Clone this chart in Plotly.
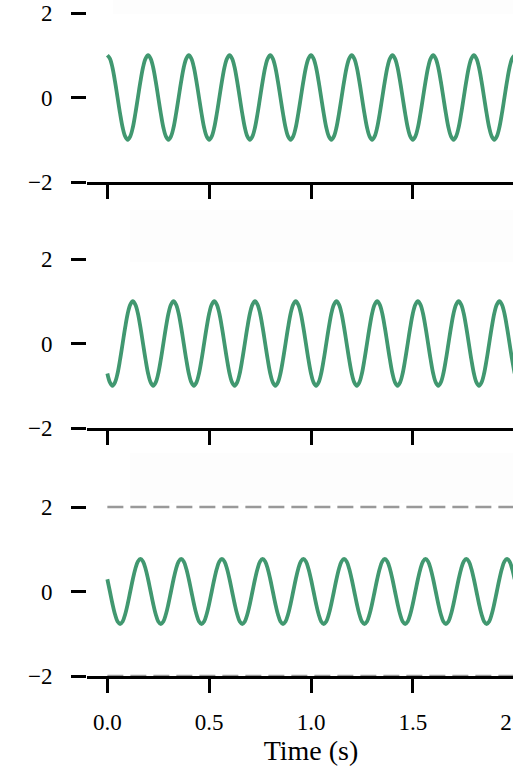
import plotly.graph_objects as go
from plotly.subplots import make_subplots

# ---------------- data ----------------
time_s = [
    0.0000, 0.0125, 0.0250, 0.0375, 0.0500, 0.0625, 0.0750, 0.0875,
    0.1000, 0.1125, 0.1250, 0.1375, 0.1500, 0.1625, 0.1750, 0.1875,
    0.2000, 0.2125, 0.2250, 0.2375, 0.2500, 0.2625, 0.2750, 0.2875,
    0.3000, 0.3125, 0.3250, 0.3375, 0.3500, 0.3625, 0.3750, 0.3875,
    0.4000, 0.4125, 0.4250, 0.4375, 0.4500, 0.4625, 0.4750, 0.4875,
    0.5000, 0.5125, 0.5250, 0.5375, 0.5500, 0.5625, 0.5750, 0.5875,
    0.6000, 0.6125, 0.6250, 0.6375, 0.6500, 0.6625, 0.6750, 0.6875,
    0.7000, 0.7125, 0.7250, 0.7375, 0.7500, 0.7625, 0.7750, 0.7875,
    0.8000, 0.8125, 0.8250, 0.8375, 0.8500, 0.8625, 0.8750, 0.8875,
    0.9000, 0.9125, 0.9250, 0.9375, 0.9500, 0.9625, 0.9750, 0.9875,
    1.0000, 1.0125, 1.0250, 1.0375, 1.0500, 1.0625, 1.0750, 1.0875,
    1.1000, 1.1125, 1.1250, 1.1375, 1.1500, 1.1625, 1.1750, 1.1875,
    1.2000, 1.2125, 1.2250, 1.2375, 1.2500, 1.2625, 1.2750, 1.2875,
    1.3000, 1.3125, 1.3250, 1.3375, 1.3500, 1.3625, 1.3750, 1.3875,
    1.4000, 1.4125, 1.4250, 1.4375, 1.4500, 1.4625, 1.4750, 1.4875,
    1.5000, 1.5125, 1.5250, 1.5375, 1.5500, 1.5625, 1.5750, 1.5875,
    1.6000, 1.6125, 1.6250, 1.6375, 1.6500, 1.6625, 1.6750, 1.6875,
    1.7000, 1.7125, 1.7250, 1.7375, 1.7500, 1.7625, 1.7750, 1.7875,
    1.8000, 1.8125, 1.8250, 1.8375, 1.8500, 1.8625, 1.8750, 1.8875,
    1.9000, 1.9125, 1.9250, 1.9375, 1.9500, 1.9625, 1.9750, 1.9875,
    2.0000,
]

signal_top = [
    1.00, 0.92, 0.71, 0.38, 0.00, -0.38, -0.71, -0.92, -1.00, -0.92, -0.71, -0.38, 0.00, 0.38, 0.71, 0.92,
    1.00, 0.92, 0.71, 0.38, 0.00, -0.38, -0.71, -0.92, -1.00, -0.92, -0.71, -0.38, 0.00, 0.38, 0.71, 0.92,
    1.00, 0.92, 0.71, 0.38, 0.00, -0.38, -0.71, -0.92, -1.00, -0.92, -0.71, -0.38, 0.00, 0.38, 0.71, 0.92,
    1.00, 0.92, 0.71, 0.38, 0.00, -0.38, -0.71, -0.92, -1.00, -0.92, -0.71, -0.38, 0.00, 0.38, 0.71, 0.92,
    1.00, 0.92, 0.71, 0.38, 0.00, -0.38, -0.71, -0.92, -1.00, -0.92, -0.71, -0.38, 0.00, 0.38, 0.71, 0.92,
    1.00, 0.92, 0.71, 0.38, 0.00, -0.38, -0.71, -0.92, -1.00, -0.92, -0.71, -0.38, 0.00, 0.38, 0.71, 0.92,
    1.00, 0.92, 0.71, 0.38, 0.00, -0.38, -0.71, -0.92, -1.00, -0.92, -0.71, -0.38, 0.00, 0.38, 0.71, 0.92,
    1.00, 0.92, 0.71, 0.38, 0.00, -0.38, -0.71, -0.92, -1.00, -0.92, -0.71, -0.38, 0.00, 0.38, 0.71, 0.92,
    1.00, 0.92, 0.71, 0.38, 0.00, -0.38, -0.71, -0.92, -1.00, -0.92, -0.71, -0.38, 0.00, 0.38, 0.71, 0.92,
    1.00, 0.92, 0.71, 0.38, 0.00, -0.38, -0.71, -0.92, -1.00, -0.92, -0.71, -0.38, 0.00, 0.38, 0.71, 0.92,
    1.00,
]

signal_mid = [
    -0.71, -0.92, -1.00, -0.92, -0.71, -0.38, 0.00, 0.38, 0.71, 0.92, 1.00, 0.92, 0.71, 0.38, 0.00, -0.38,
    -0.71, -0.92, -1.00, -0.92, -0.71, -0.38, 0.00, 0.38, 0.71, 0.92, 1.00, 0.92, 0.71, 0.38, 0.00, -0.38,
    -0.71, -0.92, -1.00, -0.92, -0.71, -0.38, 0.00, 0.38, 0.71, 0.92, 1.00, 0.92, 0.71, 0.38, 0.00, -0.38,
    -0.71, -0.92, -1.00, -0.92, -0.71, -0.38, 0.00, 0.38, 0.71, 0.92, 1.00, 0.92, 0.71, 0.38, 0.00, -0.38,
    -0.71, -0.92, -1.00, -0.92, -0.71, -0.38, 0.00, 0.38, 0.71, 0.92, 1.00, 0.92, 0.71, 0.38, 0.00, -0.38,
    -0.71, -0.92, -1.00, -0.92, -0.71, -0.38, 0.00, 0.38, 0.71, 0.92, 1.00, 0.92, 0.71, 0.38, 0.00, -0.38,
    -0.71, -0.92, -1.00, -0.92, -0.71, -0.38, 0.00, 0.38, 0.71, 0.92, 1.00, 0.92, 0.71, 0.38, 0.00, -0.38,
    -0.71, -0.92, -1.00, -0.92, -0.71, -0.38, 0.00, 0.38, 0.71, 0.92, 1.00, 0.92, 0.71, 0.38, 0.00, -0.38,
    -0.71, -0.92, -1.00, -0.92, -0.71, -0.38, 0.00, 0.38, 0.71, 0.92, 1.00, 0.92, 0.71, 0.38, 0.00, -0.38,
    -0.71, -0.92, -1.00, -0.92, -0.71, -0.38, 0.00, 0.38, 0.71, 0.92, 1.00, 0.92, 0.71, 0.38, 0.00, -0.38,
    -0.71,
]

signal_bottom = [
    0.29, 0.00, -0.29, -0.54, -0.71, -0.77, -0.71, -0.54, -0.29, 0.00, 0.29, 0.54, 0.71, 0.77, 0.71, 0.54,
    0.29, 0.00, -0.29, -0.54, -0.71, -0.77, -0.71, -0.54, -0.29, 0.00, 0.29, 0.54, 0.71, 0.77, 0.71, 0.54,
    0.29, 0.00, -0.29, -0.54, -0.71, -0.77, -0.71, -0.54, -0.29, 0.00, 0.29, 0.54, 0.71, 0.77, 0.71, 0.54,
    0.29, 0.00, -0.29, -0.54, -0.71, -0.77, -0.71, -0.54, -0.29, 0.00, 0.29, 0.54, 0.71, 0.77, 0.71, 0.54,
    0.29, 0.00, -0.29, -0.54, -0.71, -0.77, -0.71, -0.54, -0.29, 0.00, 0.29, 0.54, 0.71, 0.77, 0.71, 0.54,
    0.29, 0.00, -0.29, -0.54, -0.71, -0.77, -0.71, -0.54, -0.29, 0.00, 0.29, 0.54, 0.71, 0.77, 0.71, 0.54,
    0.29, 0.00, -0.29, -0.54, -0.71, -0.77, -0.71, -0.54, -0.29, 0.00, 0.29, 0.54, 0.71, 0.77, 0.71, 0.54,
    0.29, 0.00, -0.29, -0.54, -0.71, -0.77, -0.71, -0.54, -0.29, 0.00, 0.29, 0.54, 0.71, 0.77, 0.71, 0.54,
    0.29, 0.00, -0.29, -0.54, -0.71, -0.77, -0.71, -0.54, -0.29, 0.00, 0.29, 0.54, 0.71, 0.77, 0.71, 0.54,
    0.29, 0.00, -0.29, -0.54, -0.71, -0.77, -0.71, -0.54, -0.29, 0.00, 0.29, 0.54, 0.71, 0.77, 0.71, 0.54,
    0.29,
]

threshold_levels = [2, -2]
y_ticks = [-2, 0, 2]
x_ticks = [0.0, 0.5, 1.0, 1.5, 2.0]
x_tick_labels = ["0.0", "0.5", "1.0", "1.5", "2.0"]
x_label = "Time (s)"

# ---------------- styling ----------------
GREEN = "#419870"
FONT = "Liberation Serif"

fig = make_subplots(rows=3, cols=1, shared_xaxes=False, vertical_spacing=0.0)

for i, sy in enumerate([signal_top, signal_mid, signal_bottom], start=1):
    fig.add_trace(
        go.Scatter(x=time_s, y=sy, mode="lines",
                   line=dict(color=GREEN, width=3.8, shape="spline", smoothing=1.0,
                             simplify=False),
                   showlegend=False, hoverinfo="skip"),
        row=i, col=1)

for lvl in threshold_levels:
    fig.add_trace(
        go.Scatter(x=[time_s[0], time_s[-1]], y=[lvl, lvl], mode="lines",
                   line=dict(color="#999999", width=2.5, dash="16px,7px"),
                   showlegend=False, hoverinfo="skip"),
        row=3, col=1)

# subplot domains (pixel-matched to reference layout)
M_TOP, M_BOT, FIG_H = 10, 92, 768
H_PLOT = FIG_H - M_TOP - M_BOT          # 666 px
Y_RANGE = [-2, 2.071]                   # small headroom so the y=2 dashed line is not clipped
BOTTOM_PX = FIG_H - M_BOT               # 676
def frac(py):
    return (BOTTOM_PX - py) / H_PLOT
domains = [(frac(182), 1.0), (frac(428), frac(256)), (0.0, frac(504))]

for i in range(1, 4):
    xa = "xaxis" if i == 1 else f"xaxis{i}"
    ya = "yaxis" if i == 1 else f"yaxis{i}"
    fig.layout[ya].update(
        domain=domains[i - 1], range=Y_RANGE, tickvals=y_ticks,
        showline=False, showgrid=False, zeroline=False, automargin=False,
        ticks="outside", ticklen=15, tickwidth=2.6, tickcolor="black",
        ticklabelstandoff=14,
        tickfont=dict(family=FONT, size=23, color="black"),
    )
    fig.layout[xa].update(
        range=[-0.1, 2.1], tickvals=x_ticks, ticktext=x_tick_labels,
        showline=True, linewidth=2.6, linecolor="black",
        showgrid=False, zeroline=False, automargin=False,
        ticks="outside", ticklen=14, tickwidth=2.6, tickcolor="black",
        showticklabels=(i == 3),
        ticklabelstandoff=10,
        tickfont=dict(family=FONT, size=23, color="black"),
        layer="above traces",
    )

fig.layout.xaxis3.title = dict(text=x_label, font=dict(family=FONT, size=28, color="black"),
                               standoff=6)

# faint (almost white) legend frames seen in the picture
frames = [
    dict(x0=0.058, x1=1.05, y0=frac(14), y1=frac(0)),
    dict(x0=0.096, x1=1.05, y0=frac(262), y1=frac(210)),
    dict(x0=0.096, x1=1.05, y0=frac(503), y1=frac(453)),
]
for f in frames:
    fig.add_shape(type="rect", xref="paper", yref="paper", layer="below",
                  fillcolor="#fdfdfd", line=dict(width=0), **f)

fig.update_layout(
    width=540, height=FIG_H,
    margin=dict(l=87, r=5, t=M_TOP, b=M_BOT),
    plot_bgcolor="rgba(0,0,0,0)", paper_bgcolor="white",
    showlegend=False,
)

fig.write_html(
    "out.html",
    config={"displayModeBar": False},
    post_script="document.body.style.margin='0';document.body.style.overflow='hidden';"
                "document.documentElement.style.overflow='hidden';",
)
